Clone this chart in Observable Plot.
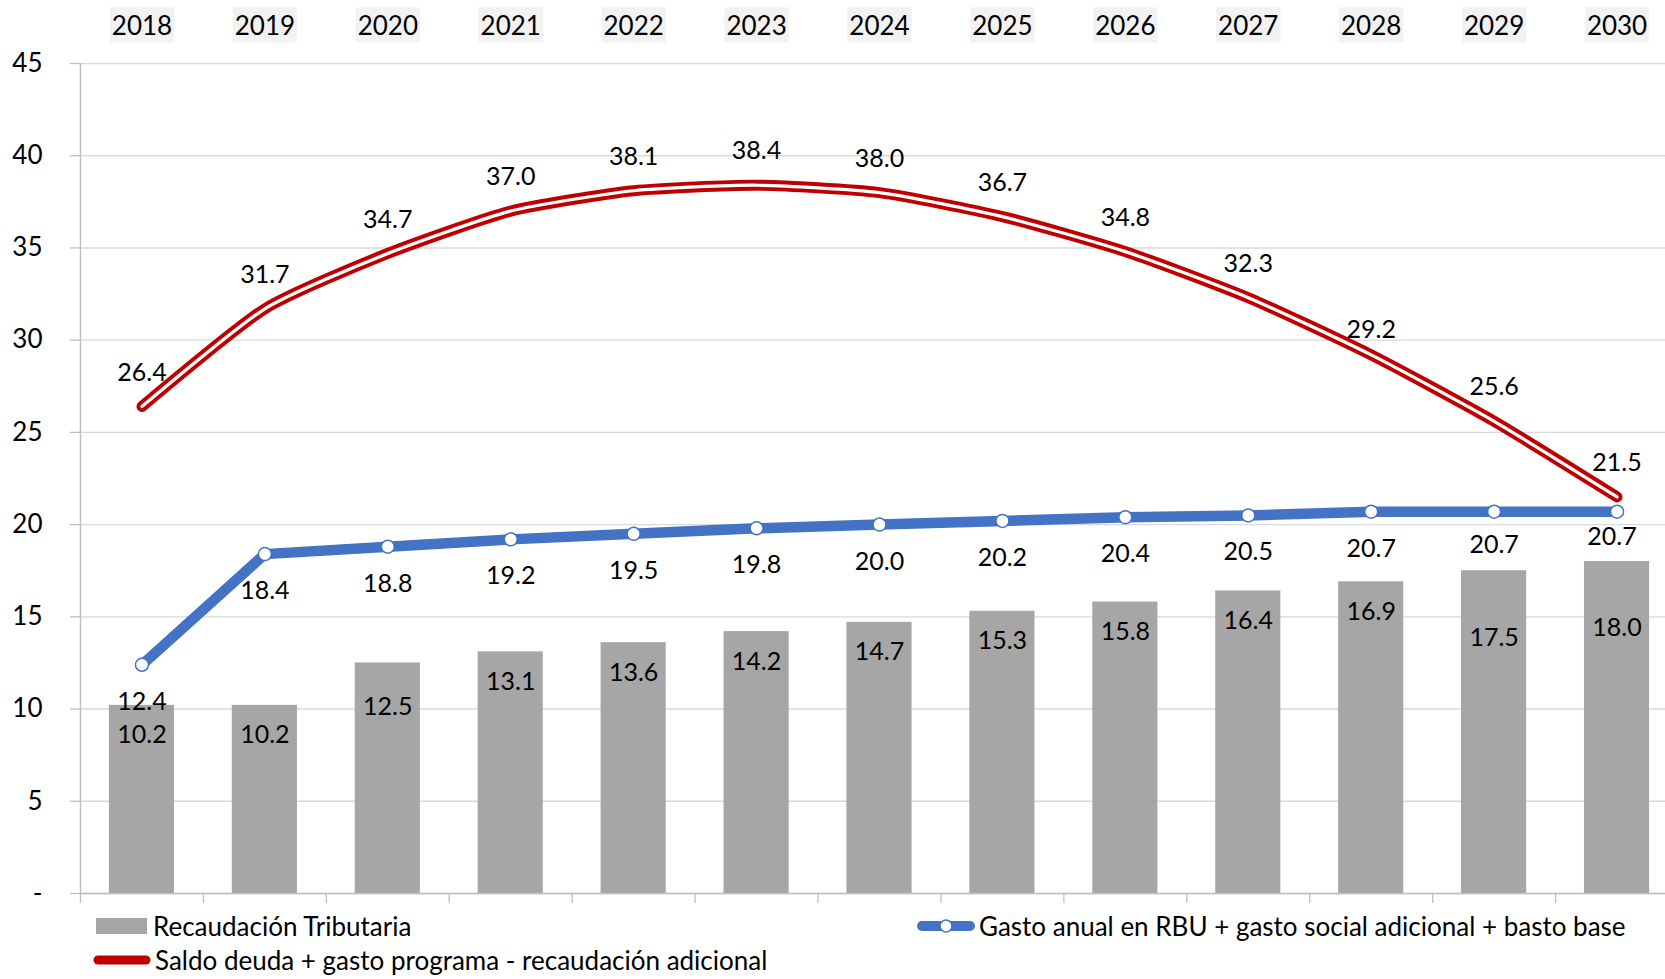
<!DOCTYPE html>
<html><head><meta charset="utf-8">
<script src="https://cdn.jsdelivr.net/npm/d3@7"></script>
<script src="https://cdn.jsdelivr.net/npm/@observablehq/plot@0.6"></script>
<style>
html,body{margin:0;padding:0;background:#fff;overflow:hidden;}
#wrap{position:relative;width:1665px;height:979px;font-family:Lato,sans-serif;overflow:hidden;}
#legend{position:relative;width:1665px;height:69px;}
.leg{position:absolute;display:flex;align-items:center;font-size:26px;color:#000;white-space:nowrap;line-height:1;}
.leg svg{display:block;margin-right:2px;}
</style></head><body><div id="wrap"><div id="chart"></div><div id="legend"></div></div>
<script>
const years = ["2018","2019","2020","2021","2022","2023","2024","2025","2026","2027","2028","2029","2030"];
const recaudacion = [10.2,10.2,12.5,13.1,13.6,14.2,14.7,15.3,15.8,16.4,16.9,17.5,18.0];
const gasto = [12.4,18.4,18.8,19.2,19.5,19.8,20.0,20.2,20.4,20.5,20.7,20.7,20.7];
const saldo = [26.4,31.7,34.7,37.0,38.1,38.4,38.0,36.7,34.8,32.3,29.2,25.6,21.5];
const yTicks = [0,5,10,15,20,25,30,35,40,45];
const yTickLabels = ["-","5","10","15","20","25","30","35","40","45"];
const seriesNames = ["Recaudación Tributaria","Gasto anual en RBU + gasto social adicional + basto base","Saldo deuda + gasto programa - recaudación adicional"];

const rows = years.map((year, i) => ({year, rec: recaudacion[i], gasto: gasto[i], saldo: saldo[i]}));

const RED = "#c00000", BLUE = "#4472c4", GRAY = "#a6a6a6", GRID = "#d9d9d9", AXIS = "#bfbfbf";
const x0 = 80, x1 = 1678;
const step = (x1 - x0) / years.length;
const fmt = d => d.toFixed(1);
const LABEL = 25, YEARFS = 26;

// label offsets (px) where the original moved labels apart
const barDy = {"2020": 44, "2029": 67, "2030": 66};
const blueDy = {"2029": 33, "2030": 25};
const redDy = {"2028": -25, "2020": -33};

const chart = Plot.plot({
  width: 1665,
  height: 910,
  marginLeft: x0,
  marginRight: 0,
  marginTop: 63,
  marginBottom: 17,
  style: {fontFamily: "Lato, sans-serif", background: "#fff", overflow: "visible"},
  x: {type: "band", domain: years, range: [x0, x1], paddingInner: 0.47, paddingOuter: 0.235, round: false, axis: null},
  y: {domain: [0, 45], axis: null},
  marks: [
    Plot.gridY({ticks: yTicks, stroke: GRID, strokeOpacity: 1, strokeWidth: 1.4}),
    Plot.barY(rows, {x: "year", y: "rec", fill: GRAY}),
    Plot.ruleY([0], {stroke: AXIS, strokeWidth: 1.5}),
    Plot.ruleX([years[0]], {dx: -step / 2, stroke: AXIS, strokeWidth: 1.5}),
    Plot.axisY({ticks: yTicks, tickFormat: d => yTickLabels[yTicks.indexOf(d)], tickSize: 10, tickPadding: 28, fontSize: 26, stroke: AXIS, fill: "#000", strokeWidth: 1.3, label: null}),
    Plot.axisX({anchor: "bottom", tickSize: 10, tickFormat: () => "", dx: -step / 2, stroke: AXIS, strokeWidth: 1.3, label: null}),
    Plot.line(rows, {x: "year", y: "gasto", stroke: BLUE, strokeWidth: 10.5, strokeLinejoin: "round", strokeLinecap: "round"}),
    Plot.dot(rows, {x: "year", y: "gasto", r: 6.5, fill: "#fff", stroke: BLUE, strokeWidth: 1.5}),
    Plot.line(rows, {x: "year", y: "saldo", curve: "cardinal", tension: 0.4, stroke: RED, strokeWidth: 11, strokeLinecap: "round", strokeLinejoin: "round"}),
    Plot.line(rows, {x: "year", y: "saldo", curve: "cardinal", tension: 0.4, stroke: "#fff", strokeWidth: 3.2, strokeLinecap: "round", strokeLinejoin: "round"}),
    // bar labels
    Plot.text(rows.filter(d => !(d.year in barDy)), {x: "year", y: "rec", text: d => fmt(d.rec), dy: 30, fontSize: LABEL, fill: "#000"}),
    ...Object.keys(barDy).map(k => Plot.text(rows.filter(d => d.year === k), {x: "year", y: "rec", text: d => fmt(d.rec), dy: barDy[k], fontSize: LABEL, fill: "#000"})),
    // blue labels
    Plot.text(rows.filter(d => !(d.year in blueDy)), {x: "year", y: "gasto", text: d => fmt(d.gasto), dy: 37, fontSize: LABEL, fill: "#000"}),
    ...Object.keys(blueDy).map(k => Plot.text(rows.filter(d => d.year === k), {x: "year", y: "gasto", text: d => fmt(d.gasto), dy: blueDy[k], dx: k === "2030" ? -5 : 0, fontSize: LABEL, fill: "#000"})),
    // red labels
    Plot.text(rows.filter(d => !(d.year in redDy)), {x: "year", y: "saldo", text: d => fmt(d.saldo), dy: -34, fontSize: LABEL, fill: "#000"}),
    ...Object.keys(redDy).map(k => Plot.text(rows.filter(d => d.year === k), {x: "year", y: "saldo", text: d => fmt(d.saldo), dy: redDy[k], fontSize: LABEL, fill: "#000"})),
    // year labels on top
    Plot.text(rows, {x: "year", text: "year", frameAnchor: "top", dy: -37, lineAnchor: "middle", fontSize: YEARFS, fill: "#000"})
  ]
});
document.getElementById("chart").appendChild(chart);

// grey boxes behind the year labels
Array.from(chart.querySelectorAll("text")).filter(t => {
  const g = t.closest("g");
  return g && g.getAttribute("font-size") == String(YEARFS) && years.includes(t.textContent.trim());
}).forEach(t => {
  const b = t.getBBox();
  const cy = b.y + b.height / 2;
  const r = document.createElementNS("http://www.w3.org/2000/svg", "rect");
  r.setAttribute("x", b.x - 2);
  r.setAttribute("y", cy - 17.5);
  r.setAttribute("width", b.width + 4);
  r.setAttribute("height", 35);
  r.setAttribute("fill", "#f2f2f2");
  const tr = t.getAttribute("transform");
  if (tr) r.setAttribute("transform", tr);
  t.parentNode.insertBefore(r, t);
});

// legend
const legend = document.getElementById("legend");
function item(left, top, markerSvg, label) {
  const d = document.createElement("div");
  d.className = "leg";
  d.style.left = left + "px";
  d.style.top = top + "px";
  d.innerHTML = markerSvg + "<span>" + label + "</span>";
  legend.appendChild(d);
}
item(96, 3, `<svg width="55" height="26"><rect x="0" y="5" width="51" height="16" fill="${GRAY}"/></svg>`, seriesNames[0]);
item(917, 3, `<svg width="60" height="26"><line x1="5" y1="13" x2="53" y2="13" stroke="${BLUE}" stroke-width="10" stroke-linecap="round"/><circle cx="29" cy="13" r="6" fill="#fff" stroke="${BLUE}" stroke-width="1.5"/></svg>`, seriesNames[1]);
item(93, 37, `<svg width="60" height="26"><line x1="5" y1="13" x2="53" y2="13" stroke="${RED}" stroke-width="9" stroke-linecap="round"/></svg>`, seriesNames[2]);
</script>
</body></html>
